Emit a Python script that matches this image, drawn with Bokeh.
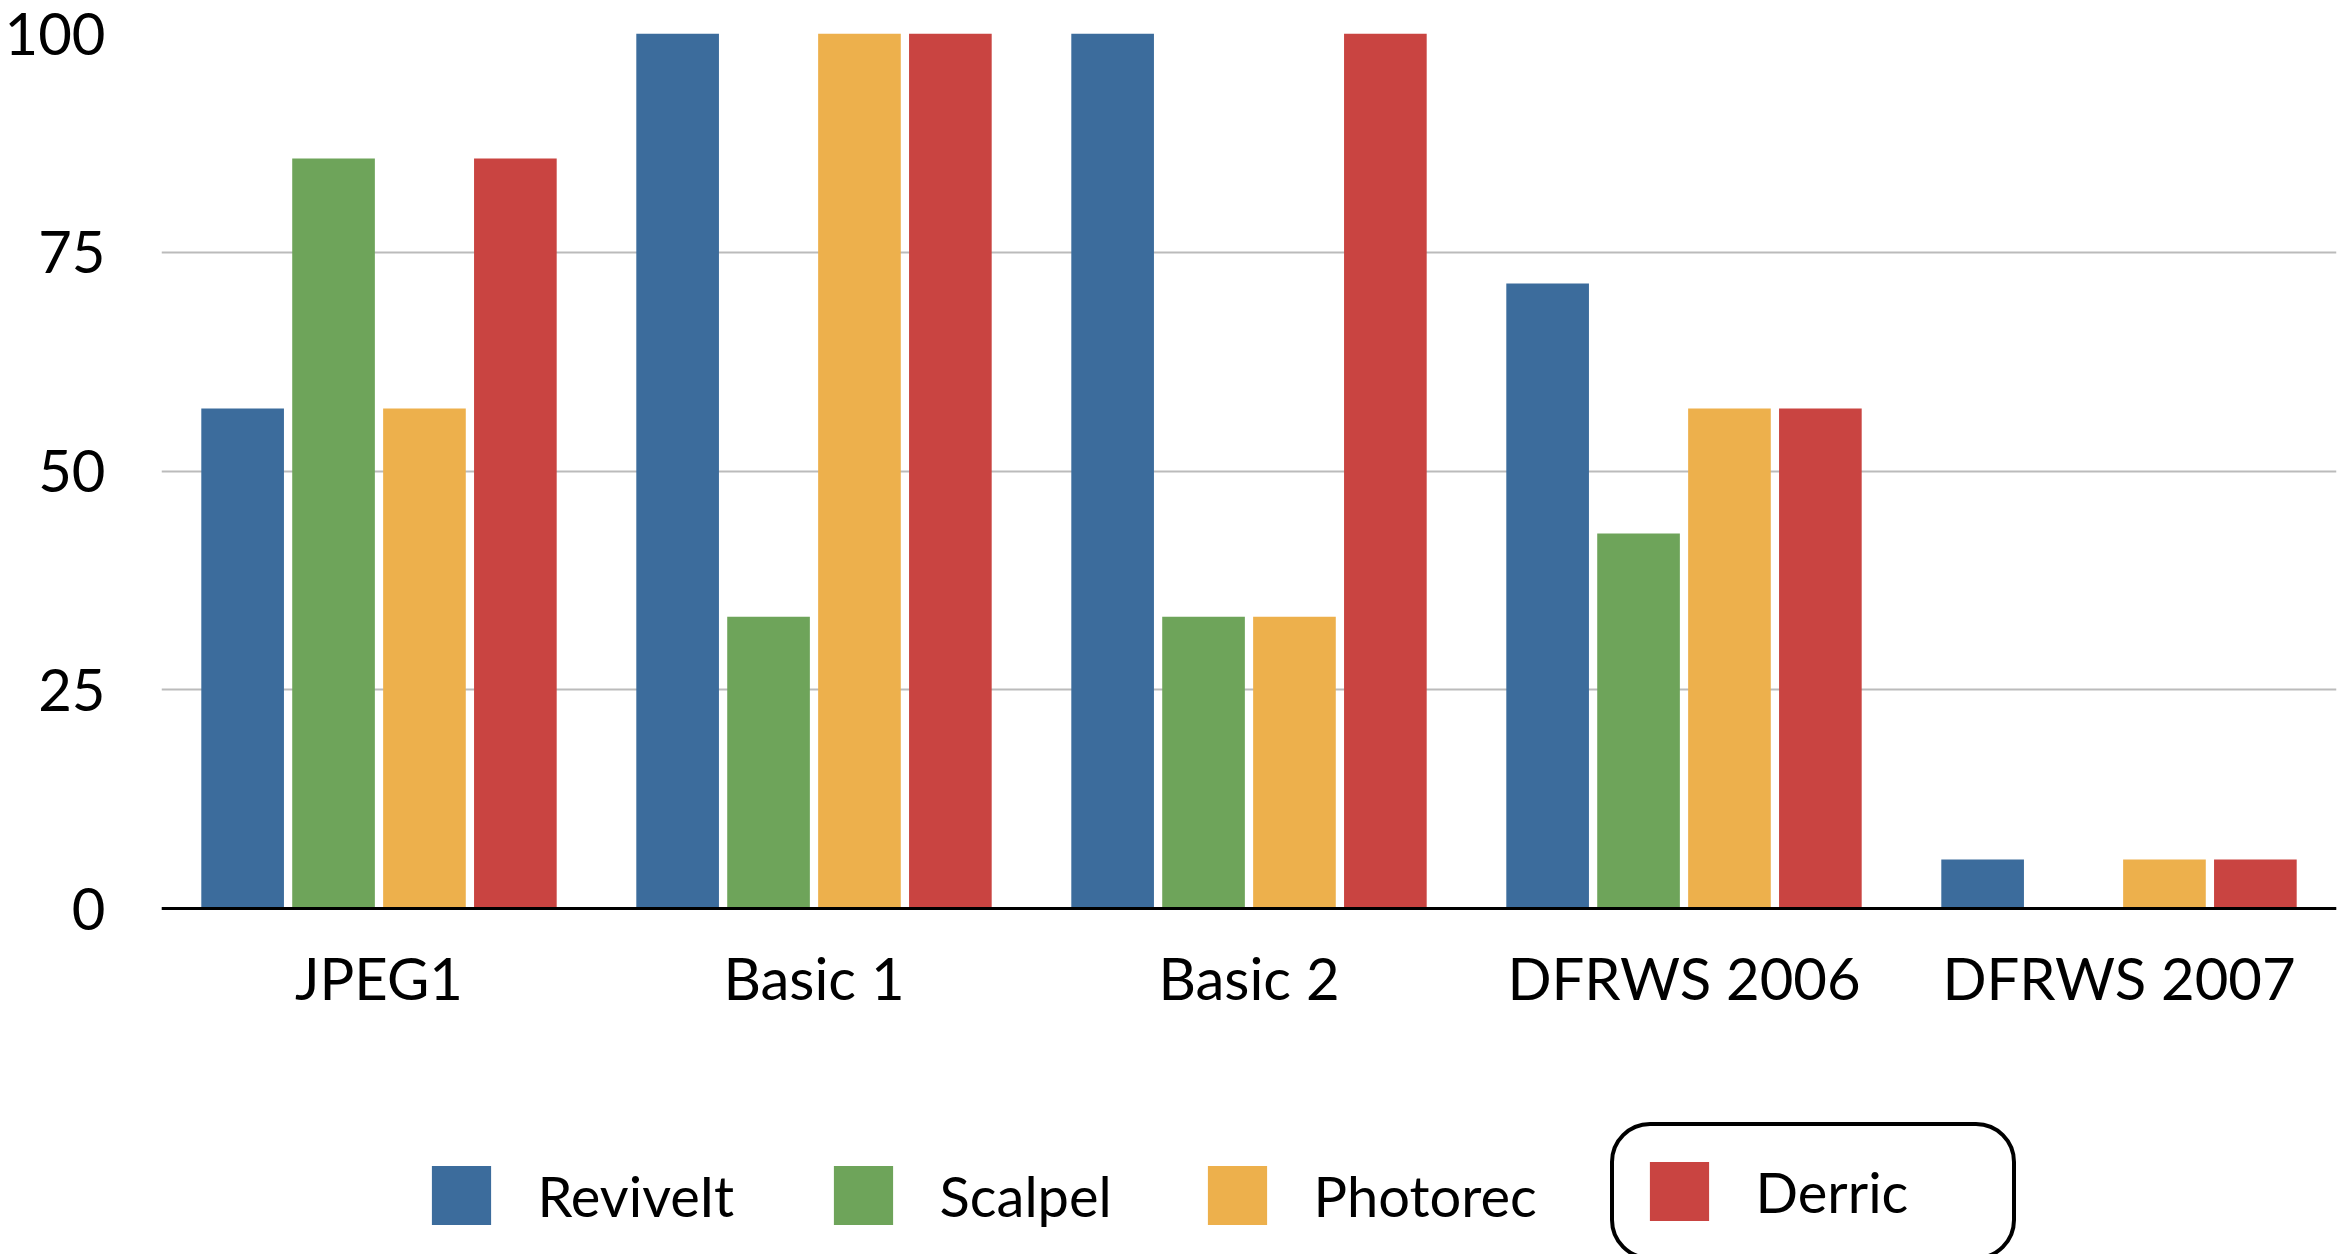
from bokeh.plotting import figure
from bokeh.models import FactorRange, Range1d, FixedTicker, Legend, LegendItem, ColumnDataSource
from bokeh.transform import dodge
from bokeh.embed import file_html
from bokeh.resources import INLINE

categories = ["JPEG1", "Basic 1", "Basic 2", "DFRWS 2006", "DFRWS 2007"]
series_names = ["ReviveIt", "Scalpel", "Photorec", "Derric"]
reviveit = [57.14, 100, 100, 71.43, 5.6]
scalpel = [85.71, 33.33, 33.33, 42.86, 0]
photorec = [57.14, 100, 33.33, 57.14, 5.6]
derric = [85.71, 100, 100, 57.14, 5.6]
y_ticks = [0, 25, 50, 75, 100]

colors = ["#3c6c9c", "#6ea45a", "#edb04c", "#c94441"]
offsets = [-0.3135, -0.1045, 0.1045, 0.3135]
FONT = "Lato"

H = 1254
FRAME_LEFT = 161
FRAME_TOP = 33
ZERO_Y = 908
PX_PER_UNIT = (ZERO_Y - FRAME_TOP) / 100.0
y_bottom = -(H - ZERO_Y) / PX_PER_UNIT

source = ColumnDataSource(dict(cat=categories, ReviveIt=reviveit, Scalpel=scalpel,
                               Photorec=photorec, Derric=derric))

p = figure(width=2347, height=H, x_range=FactorRange(*categories, range_padding=0),
           y_range=Range1d(y_bottom, 100), output_backend="svg", toolbar_location=None,
           min_border_left=FRAME_LEFT, min_border_right=11, min_border_top=FRAME_TOP,
           min_border_bottom=0)
p.outline_line_color = None

renderers = []
for name, col, off in zip(series_names, colors, offsets):
    r = p.vbar(x=dodge("cat", off, range=p.x_range), top=name, bottom=0, width=0.19,
               source=source, fill_color=col, line_color=None)
    renderers.append(r)

p.xgrid.grid_line_color = None
p.ygrid.grid_line_color = "#bbbbbb"
p.ygrid.grid_line_width = 2
p.yaxis.ticker = FixedTicker(ticks=y_ticks)

p.yaxis.axis_line_color = None
p.yaxis.major_tick_line_color = None
p.yaxis.minor_tick_line_color = None
p.yaxis.major_label_standoff = 50
p.yaxis.major_label_text_font = FONT
p.yaxis.major_label_text_font_size = "58px"
p.yaxis.major_label_text_line_height = 1.0
p.yaxis.major_label_text_color = "black"

p.xaxis.fixed_location = 0
p.xaxis.axis_line_color = "black"
p.xaxis.axis_line_width = 3
p.xaxis.major_tick_line_color = None
p.xaxis.major_label_standoff = 28
p.xaxis.major_label_text_font = FONT
p.xaxis.major_label_text_font_size = "58px"
p.xaxis.major_label_text_color = "black"

# legend glyph boxes (vbar legend glyphs are inset 10% per side)
GW = 74
inset = 0.1 * GW
glyph_left = [431, 833, 1207]
glyph_bottom = 1225
common = dict(margin=0, spacing=0, glyph_width=GW, glyph_height=GW, label_height=GW,
              label_standoff=40, label_text_font=FONT, label_text_font_size="56px",
              label_text_color="black")
for name, r, gx in zip(series_names[:3], renderers[:3], glyph_left):
    lg = Legend(items=[LegendItem(label=name, renderers=[r])],
                location=(gx - inset - FRAME_LEFT, H - glyph_bottom - inset),
                padding=0, border_line_color=None, background_fill_alpha=0, **common)
    p.add_layout(lg, "center")

pad = 28
lg = Legend(items=[LegendItem(label=series_names[3], renderers=[renderers[3]])],
            location=(1645 - inset - pad - FRAME_LEFT, H - glyph_bottom - inset - pad),
            padding=pad, label_width=2005 - pad - 1749,
            border_line_color="black", border_line_width=4, border_line_alpha=1.0,
            background_fill_alpha=0, **common)
if "border_radius" in Legend.properties():
    lg.border_radius = 40
p.add_layout(lg, "center")

open("out.html", "w").write(file_html(p, INLINE))
